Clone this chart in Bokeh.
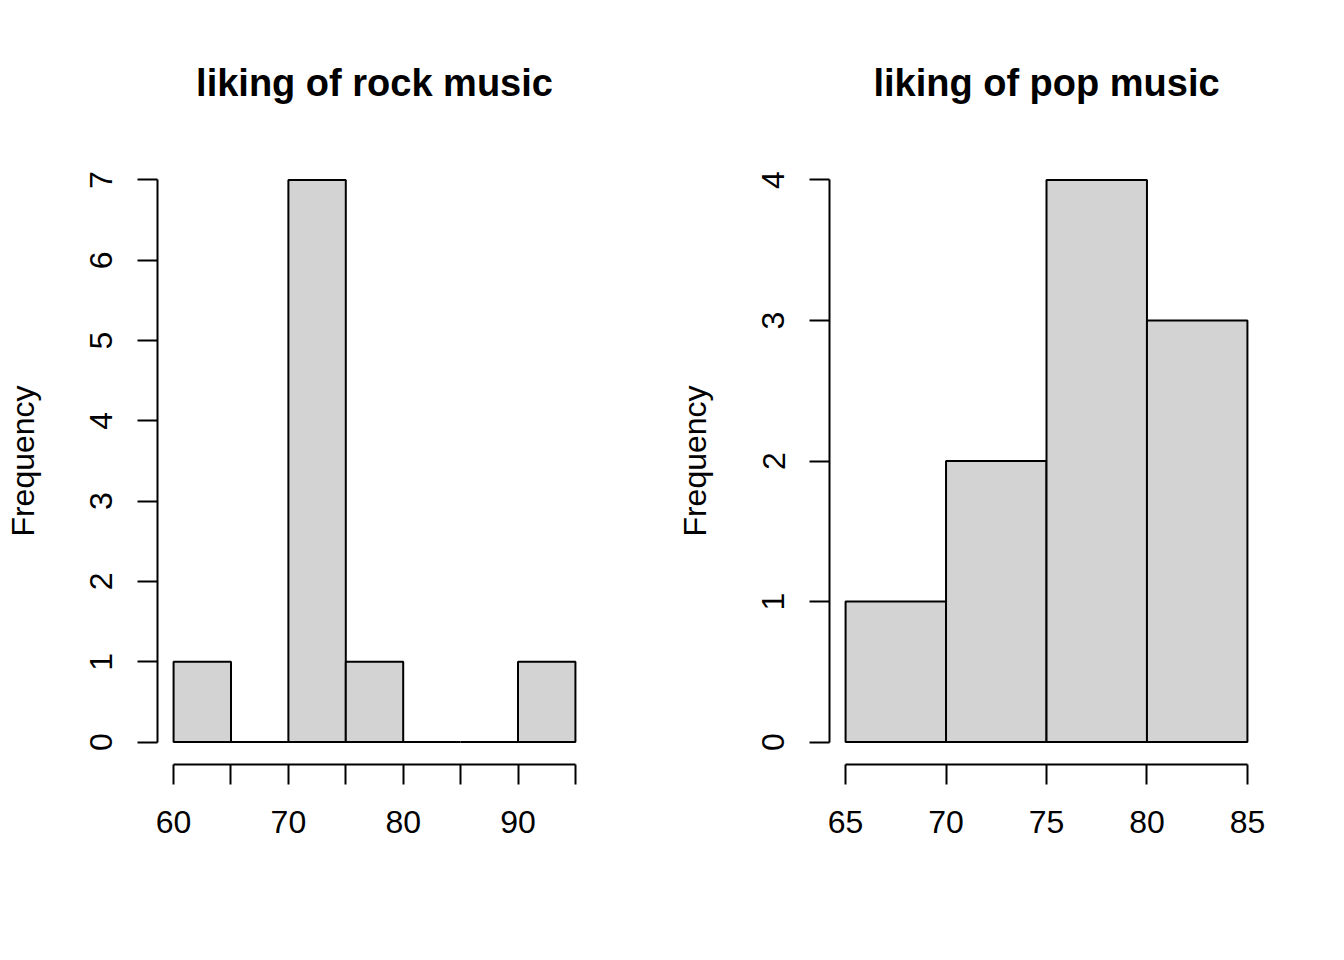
from bokeh.plotting import figure
from bokeh.layouts import row
from bokeh.models import Range1d, FixedTicker, Title
from bokeh.embed import file_html
from bokeh.resources import INLINE

# Data
rock_breaks = [60, 65, 70, 75, 80, 85, 90, 95]
rock_counts = [1, 0, 7, 1, 0, 0, 1]
pop_breaks = [65, 70, 75, 80, 85]
pop_counts = [1, 2, 4, 3]

rock_xticks = [60, 65, 70, 75, 80, 85, 90, 95]
rock_xlabels = {60: "60", 65: "", 70: "70", 75: "", 80: "80", 85: "", 90: "90", 95: ""}
rock_yticks = [0, 1, 2, 3, 4, 5, 6, 7]
pop_xticks = [65, 70, 75, 80, 85]
pop_yticks = [0, 1, 2, 3, 4]

FONT = "Liberation Sans"
TOP = 157
FW, FH = 434, 607
H = 952


def make_hist(title, breaks, counts, xticks, yticks, xlabels, border_left, border_right):
    xlo, xhi = breaks[0], breaks[-1]
    ylo, yhi = 0, max(counts)
    dx = (xhi - xlo) * 0.04
    dy = (yhi - ylo) * 0.04
    p = figure(
        width=border_left + FW + border_right,
        height=H,
        frame_width=FW,
        frame_height=FH,
        min_border_left=border_left,
        min_border_right=border_right,
        min_border_top=TOP,
        min_border_bottom=H - TOP - FH,
        x_range=Range1d(xlo - dx, xhi + dx),
        y_range=Range1d(ylo - dy, yhi + dy),
        output_backend="svg",
        toolbar_location=None,
        tools="",
    )
    p.title = Title(text=title, align="center", text_font=FONT,
                    text_font_size="38px", text_font_style="bold",
                    text_color="black", standoff=107)
    p.outline_line_color = None
    p.xgrid.visible = False
    p.ygrid.visible = False
    p.background_fill_color = "white"
    p.border_fill_color = "white"

    p.quad(left=breaks[:-1], right=breaks[1:], bottom=[0] * len(counts), top=counts,
           fill_color="#D3D3D3", line_color="black", line_width=2)

    for ax in (p.xaxis[0], p.yaxis[0]):
        ax.axis_line_width = 2
        ax.major_tick_line_width = 2
        ax.major_tick_out = 20
        ax.major_tick_in = 0
        ax.minor_tick_out = 0
        ax.minor_tick_in = 0
        ax.major_label_text_font = FONT
        ax.major_label_text_font_size = "32px"
        ax.major_label_text_color = "black"
        ax.axis_line_color = "black"
        ax.major_tick_line_color = "black"

    xa = p.xaxis[0]
    xa.ticker = FixedTicker(ticks=xticks)
    xa.bounds = (xlo, xhi)
    xa.major_label_standoff = 26
    if xlabels:
        xa.major_label_overrides = xlabels

    ya = p.yaxis[0]
    ya.ticker = FixedTicker(ticks=yticks)
    ya.bounds = (ylo, yhi)
    ya.major_label_orientation = "parallel"
    ya.major_label_standoff = 25
    ya.axis_label = "Frequency"
    ya.axis_label_text_font = FONT
    ya.axis_label_text_font_size = "32px"
    ya.axis_label_text_font_style = "normal"
    ya.axis_label_text_color = "black"
    ya.axis_label_standoff = 47
    return p


p1 = make_hist("liking of rock music", rock_breaks, rock_counts, rock_xticks,
               rock_yticks, rock_xlabels, 157, 81)
p2 = make_hist("liking of pop music", pop_breaks, pop_counts, pop_xticks,
               pop_yticks, None, 157, 73)

layout = row(p1, p2)
open("out.html", "w").write(file_html(layout, INLINE))
